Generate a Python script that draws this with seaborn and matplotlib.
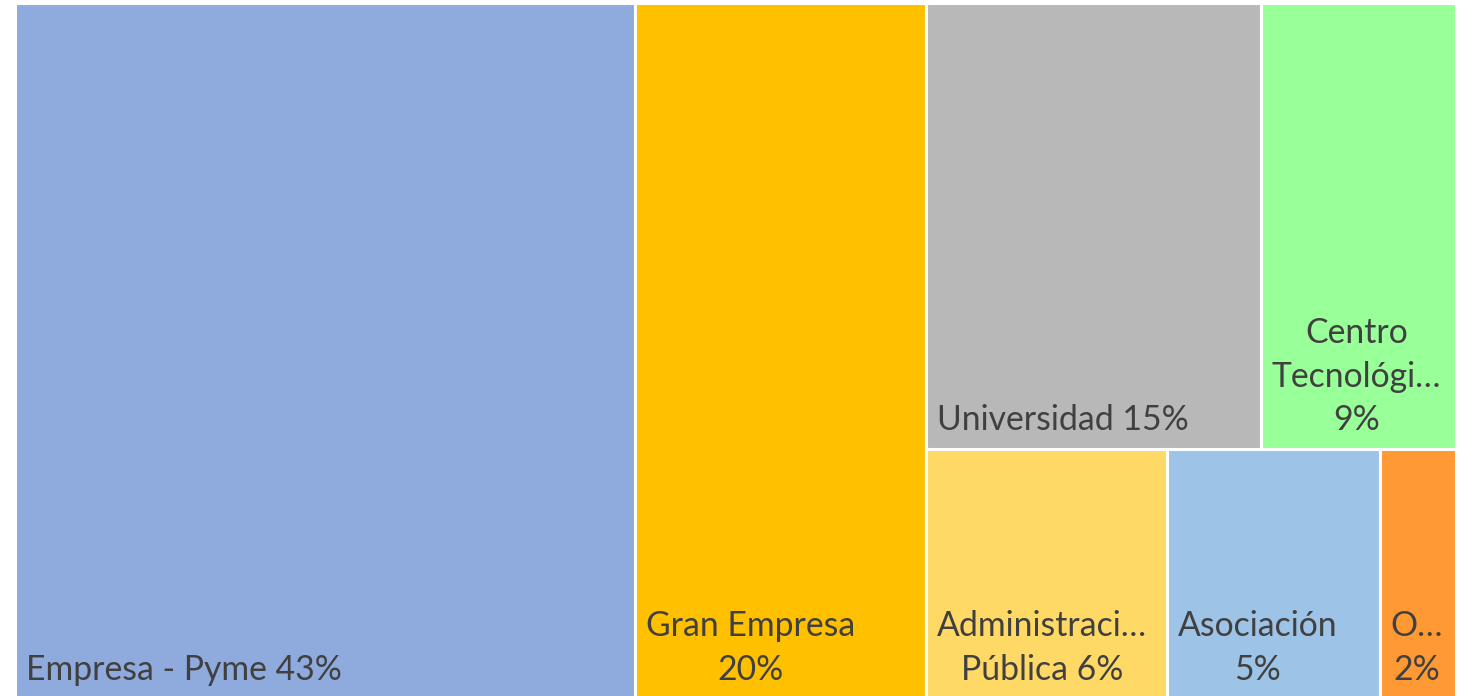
import matplotlib
matplotlib.use("Agg")
import matplotlib.pyplot as plt
import seaborn as sns

# ---- data ----
categories = ["Empresa - Pyme", "Gran Empresa", "Universidad", "Centro Tecnológico",
              "Administración Pública", "Asociación", "Otros"]
values = [43.0, 20.2, 14.9, 8.7, 6.0, 5.3, 1.9]
# label text as displayed (Excel-style truncation / wrapping)
display_names = ["Empresa - Pyme", "Gran Empresa\n", "Universidad", "Centro\nTecnológi…\n",
                 "Administraci…\nPública", "Asociación\n", "O…\n"]
colors = ["#8FAADC", "#FFC000", "#B8B8B8", "#99FF99", "#FFD966", "#9DC3E6", "#FF9933"]

sns.set_style("white")
plt.rcParams["font.family"] = ["Lato", "DejaVu Sans"]

fig = plt.figure(figsize=(14.63, 6.96), dpi=100)
ax = fig.add_axes([15 / 1463, -2 / 696, 1441 / 1463, 695 / 696])

total = sum(values)
# layout: two full-height columns, then a block split into two rows
rects = []
x = 0.0
for v in values[:2]:
    w = v / total * 100
    rects.append((x, 0.0, w, 1.0))
    x += w
block_w = 100 - x
top = values[2:4]
bottom = values[4:]
block_sum = sum(values[2:])
top_h = sum(top) / block_sum
bot_h = 1 - top_h
xx = x
for v in top:
    w = v / sum(top) * block_w
    rects.append((xx, bot_h, w, top_h))
    xx += w
xx = x
for v in bottom:
    w = v / sum(bottom) * block_w
    rects.append((xx, 0.0, w, bot_h))
    xx += w

for (rx, ry, rw, rh), c in zip(rects, colors):
    ax.bar(rx, rh, width=rw, bottom=ry, align="edge", color=c,
           edgecolor="white", linewidth=2.2)

for (rx, ry, rw, rh), name, v in zip(rects, display_names, values):
    pct = f"{round(v / total * 100):.0f}%"
    if name.endswith("\n"):
        txt = name + pct
    else:
        txt = name + " " + pct
    ax.annotate(txt, xy=(rx, ry), xytext=(8, 9), textcoords="offset points",
                ha="left", va="bottom", multialignment="center",
                fontsize=24.3, color="#404040", linespacing=1.45)

ax.set_xlim(0, 100)
ax.set_ylim(0, 1)
ax.set_axis_off()

fig.savefig("out.png", dpi=100)
